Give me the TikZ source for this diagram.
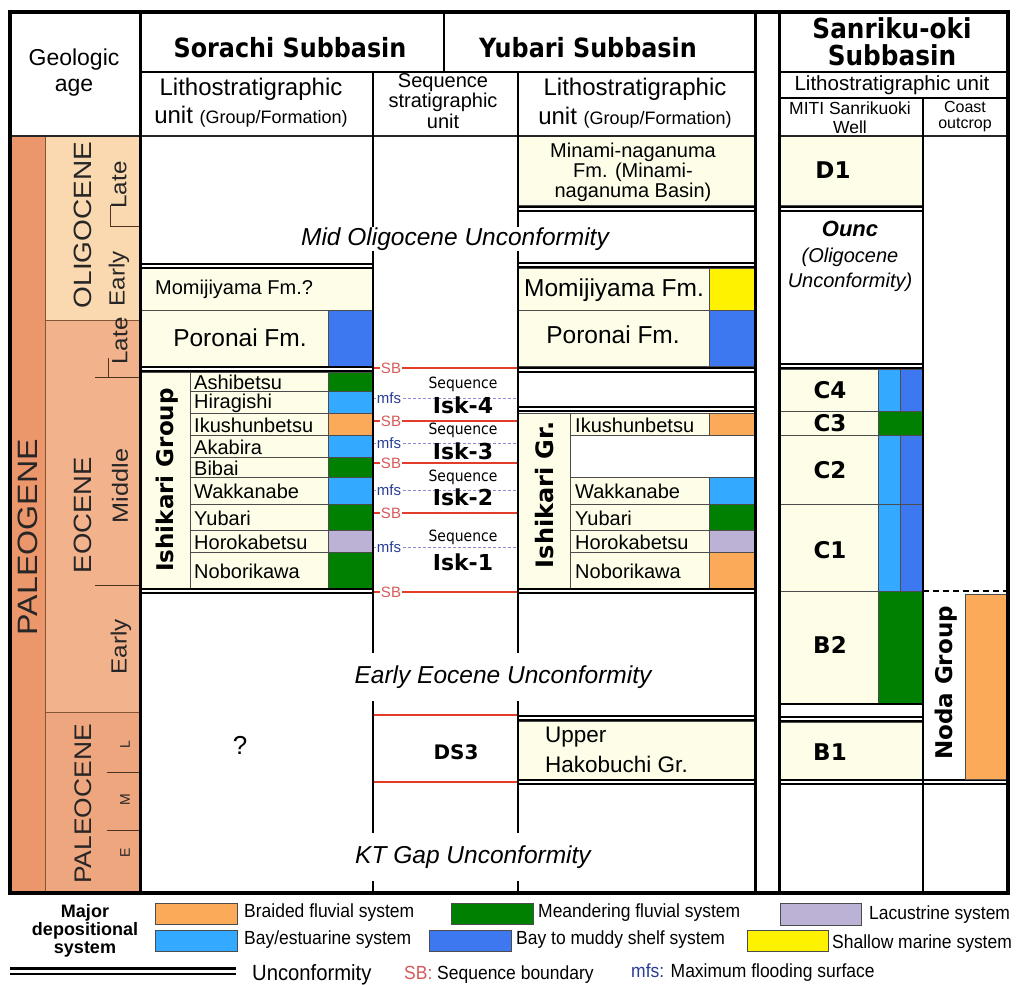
\documentclass[tikz,border=0pt]{standalone}
\usepackage{graphicx}
\usepackage{fontspec}
\setmainfont{Liberation Sans}
\newfontfamily\hfont{DejaVu Sans}[FakeStretch=0.9]
\newfontfamily\vfont{DejaVu Sans}
\newfontfamily\nfont{Liberation Sans}[FakeStretch=0.92]
\newcommand\fsz[1]{\fontsize{#1}{#1}\selectfont}
\definecolor{cream}{RGB}{253,253,232}
\definecolor{gfl}{RGB}{0,128,0}
\definecolor{lblue}{RGB}{51,170,255}
\definecolor{dblue}{RGB}{61,120,240}
\definecolor{orng}{RGB}{251,170,90}
\definecolor{lav}{RGB}{188,178,214}
\definecolor{ylw}{RGB}{255,242,0}
\definecolor{sbred}{RGB}{228,60,40}
\definecolor{sbtxt}{RGB}{214,90,90}
\definecolor{mfstxt}{RGB}{40,60,150}
\definecolor{mfsline}{RGB}{140,140,210}
\definecolor{paleog}{RGB}{236,150,108}
\definecolor{oligo}{RGB}{250,217,176}
\definecolor{eoc}{RGB}{242,178,140}
\definecolor{paleoc}{RGB}{238,166,126}
\definecolor{brn}{RGB}{130,85,55}
\begin{document}
\begin{tikzpicture}[x=1pt,y=-1pt,
  cell/.style={fill=cream, draw=black!70, line width=0.8pt},
  sw/.style={draw=black!70, line width=0.8pt},
  unc/.style={draw=black, double=white, double distance=2.4pt, line width=1.8pt},
  sbline/.style={draw=sbred, line width=2.2pt},
  mfsln/.style={draw=mfsline, line width=0.9pt, dash pattern=on 3pt off 2pt},
  sbl/.style={text=sbtxt, fill=white, inner sep=1pt, font=\fsz{15}},
  mfsl/.style={text=mfstxt, fill=white, inner sep=0.5pt, font=\fsz{15}},
  fm/.style={anchor=west, inner sep=0pt, font=\fsz{20}},
  unitlbl/.style={font=\vfont\bfseries\fsz{23}},
  uncl/.style={font=\itshape\fsz{24.5}, fill=white, inner sep=1pt},
  agelbl/.style={rotate=90, inner sep=0pt, text=black!85},
  hdr/.style={font=\hfont\bfseries\fsz{26.5}},
  sub/.style={font=\fsz{24}},
  tight/.style={inner sep=0pt},
  leg/.style={anchor=west, inner sep=0pt, font=\nfont\fsz{19}},
]
\useasboundingbox (0,0) rectangle (1018,985);

% ---------- geologic age column ----------
\fill[paleog] (10,136) rectangle (45,893);
\fill[oligo] (45,136) rectangle (140,320);
\fill[eoc] (45,320) rectangle (140,712);
\fill[paleoc] (45,712) rectangle (140,893);
\draw[brn, line width=1pt] (45,136)--(45,893) (45,320)--(140,320) (45,712)--(140,712);
\draw[brn!60!black, line width=0.9pt] (110,205)--(110,226)--(140,226)
  (95,377)--(140,377) (108,358)--(108,377) (95,585)--(140,585)
  (107,772)--(140,772) (107,830)--(140,830);

% ---------- Sorachi subbasin ----------
\path[cell] (140,268) rectangle (373,310);
\path[cell] (140,310) rectangle (328,366);
\path[sw, fill=dblue] (328,310) rectangle (373,366);
\path[cell] (140,372) rectangle (190,588);
\foreach \ya/\yb/\nm/\col in {372/391/Ashibetsu/gfl, 391/413/Hiragishi/lblue,
   413/435/Ikushunbetsu/orng, 435/457/Akabira/lblue, 457/477/Bibai/gfl,
   477/504/Wakkanabe/lblue, 504/530/Yubari/gfl, 530/552/Horokabetsu/lav,
   552/588/Noborikawa/gfl}{
  \path[cell] (190,\ya) rectangle (328,\yb);
  \path[sw, fill=\col] (328,\ya) rectangle (373,\yb);
  \node[fm] (s-\nm) at (194,{(\ya+\yb)/2+1}) {\nm};
}
\draw[unc] (140,266)--(373,266) (140,369)--(373,369) (140,591)--(373,591);

% ---------- Yubari subbasin ----------
\path[cell] (518,136) rectangle (755,205);
\draw[unc] (518,209)--(755,209);
\draw[unc] (518,265)--(755,265);
\path[cell] (518,268) rectangle (709,310);
\path[sw, fill=ylw] (709,268) rectangle (755,310);
\path[cell] (518,310) rectangle (709,366);
\path[sw, fill=dblue] (709,310) rectangle (755,366);
\draw[unc] (518,370)--(755,370);
\draw[unc] (518,409)--(755,409);
\path[cell] (518,413) rectangle (570,588);
\path[cell] (570,413) rectangle (709,435);
\path[sw, fill=orng] (709,413) rectangle (755,435);
\node[fm] (y-Ikushunbetsu) at (575,425) {Ikushunbetsu};
\path[sw, fill=white] (570,435) rectangle (755,477);
\foreach \ya/\yb/\nm/\col in {477/504/Wakkanabe/lblue, 504/530/Yubari/gfl,
   530/552/Horokabetsu/lav, 552/588/Noborikawa/orng}{
  \path[cell] (570,\ya) rectangle (709,\yb);
  \path[sw, fill=\col] (709,\ya) rectangle (755,\yb);
  \node[fm] (y-\nm) at (575,{(\ya+\yb)/2+1}) {\nm};
}
\draw[unc] (518,591)--(755,591);
\draw[unc] (518,718)--(755,718);
\path[cell] (518,721) rectangle (755,779);
\draw[unc] (518,782)--(755,782);

% ---------- Sanriku-oki subbasin ----------
\path[cell] (779,136) rectangle (923,205);
\draw[unc] (779,209)--(923,209);
\draw[unc] (779,366)--(923,366);
\foreach \ya/\yb in {369/411, 435/504, 504/591}{
  \path[cell] (779,\ya) rectangle (878,\yb);
  \path[sw, fill=lblue] (878,\ya) rectangle (900,\yb);
  \path[sw, fill=dblue] (900,\ya) rectangle (923,\yb);
}
\path[cell] (779,411) rectangle (878,435);
\path[sw, fill=gfl] (878,411) rectangle (923,435);
\path[cell] (779,591) rectangle (878,704);
\path[sw, fill=gfl] (878,591) rectangle (923,704);
\draw[line width=2pt] (779,704)--(923,704);
\draw[unc] (779,719)--(923,719);
\path[cell] (779,722) rectangle (923,779);
\draw[unc] (779,782)--(1008,782);
\path[sw, fill=orng] (965,594) rectangle (1008,779);
\draw[line width=2pt, dash pattern=on 6pt off 4pt] (923,591)--(1008,591);

% ---------- sequence column ----------
\foreach \y in {368,421,463,513,592}{
  \draw[sbline] (373,\y)--(518,\y);
}
\foreach \y in {398,443,490,547}{
  \draw[mfsln] (373,\y)--(518,\y);
}
\draw[sbline] (373,715)--(518,715) (373,782)--(518,782);

% ---------- table lines ----------
\draw[line width=1.3pt, black!85] (10,136)--(755,136) (779,136)--(1008,136);
\draw[line width=1.3pt] (140,72)--(755,72) (779,72)--(1008,72) (779,98)--(1008,98) (444,12)--(444,72);
\draw[line width=1.8pt] (373,72)--(373,893) (518,72)--(518,893);
\draw[line width=1.5pt] (923,98)--(923,893);
\draw[line width=3pt] (140,12)--(140,893) (755,12)--(755,893) (779,12)--(779,893);
\draw[line width=3.5pt] (10,12) rectangle (1008,893);

% SB / mfs labels
\foreach \y [count=\i] in {368,421,463,513,592}{
  \node[sbl] (sb\i) at (391,\y) {SB};
}
\foreach \y [count=\i] in {398,443,490,547}{
  \node[mfsl] (mfs\i) at (389,\y) {mfs};
}

% ---------- header texts ----------
\node[font=\fsz{23}] (ga1) at (74,60) {Geologic};
\node[font=\fsz{23}] (ga2) at (74,88) {age};
\node[hdr] (sorachi) at (290,48) {Sorachi Subbasin};
\node[hdr] (yubari) at (588,48) {Yubari Subbasin};
\node[hdr, font=\hfont\bfseries\fsz{27.5}] (sanr1) at (892,28) {Sanriku-oki};
\node[hdr, font=\hfont\bfseries\fsz{27.5}] (sanr2) at (892,55) {Subbasin};
\node[sub] (sl1) at (251,89) {Lithostratigraphic};
\node[sub] (sl2) at (251,117) {unit {\fsz{18}(Group/Formation)}};
\node[tight, font=\fsz{20}] (sq1) at (443,83) {Sequence};
\node[tight, font=\fsz{20}] (sq2) at (443,102) {stratigraphic};
\node[tight, font=\fsz{20}] (sq3) at (443,121) {unit};
\node[sub] (yl1) at (635,89) {Lithostratigraphic};
\node[sub] (yl2) at (635,118) {unit {\fsz{18}(Group/Formation)}};
\node[font=\fsz{20.5}] (snl) at (892,85) {Lithostratigraphic unit};
\node[tight, font=\fsz{17.5}] (mw1) at (850,108) {MITI Sanrikuoki};
\node[tight, font=\fsz{17.5}] (mw2) at (850,127) {Well};
\node[tight, font=\fsz{16}] (co1) at (965,107) {Coast};
\node[tight, font=\fsz{16}] (co2) at (965,125) {outcrop};

% ---------- age labels ----------
\node[agelbl, font=\fsz{28}] (paleogene) at (28,537) {\scalebox{1.15}[1]{PALEOGENE}};
\node[agelbl, font=\fsz{25}] (oligocene) at (83,225) {\scalebox{1.12}[1]{OLIGOCENE}};
\node[agelbl, font=\fsz{22}] (olate) at (119,185) {\scalebox{1.1}[1]{Late}};
\node[agelbl, font=\fsz{22}] (oearly) at (119,279) {\scalebox{1.1}[1]{Early}};
\node[agelbl, font=\fsz{22}] (elate) at (120,341) {\scalebox{1.1}[1]{Late}};
\node[agelbl, font=\fsz{25}] (eocene) at (83,515) {\scalebox{1.1}[1]{EOCENE}};
\node[agelbl, font=\fsz{22}] (emid) at (120,486) {\scalebox{1.15}[1]{Middle}};
\node[agelbl, font=\fsz{22}] (eearly) at (121,647) {\scalebox{1.1}[1]{Early}};
\node[agelbl, font=\fsz{24}] (paleocene) at (83,804) {\scalebox{1.1}[1]{PALEOCENE}};
\node[agelbl, font=\fsz{14}] (pl) at (125,745) {L};
\node[agelbl, font=\fsz{14}] (pm) at (125,800) {M};
\node[agelbl, font=\fsz{14}] (pe) at (125,853) {E};

% ---------- body texts ----------
\node[anchor=west, inner sep=0pt, font=\fsz{20}] (momS) at (155,289) {Momijiyama Fm.?};
\node[font=\fsz{24.5}] (porS) at (240,338) {Poronai Fm.};
\node[rotate=90, font=\vfont\bfseries\fsz{23}] (ishG) at (167,480) {Ishikari Group};
\node[font=\fsz{20}] (mn1) at (633,152) {Minami-naganuma};
\node[font=\fsz{20}] (mn2) at (633,172) {Fm. (Minami-};
\node[font=\fsz{20}] (mn3) at (633,192) {naganuma Basin)};
\node[anchor=west, inner sep=0pt, font=\fsz{24.5}] (momY) at (524,290) {Momijiyama Fm.};
\node[font=\fsz{24.5}] (porY) at (613,335) {Poronai Fm.};
\node[rotate=90, font=\vfont\bfseries\fsz{24}] (ishY) at (545,495) {Ishikari Gr.};
\node[anchor=west, inner sep=0pt, font=\fsz{22.5}] (uh1) at (545,737) {Upper};
\node[anchor=west, inner sep=0pt, font=\fsz{22.5}] (uh2) at (545,764) {Hakobuchi Gr.};
\node[font=\fsz{26}] (qm) at (240,745) {?};

\node[uncl] (midolig) at (455,239) {Mid Oligocene Unconformity};
\node[uncl, minimum height=48pt] (eeoc) at (503,677) {Early Eocene Unconformity};
\node[uncl, minimum height=48pt] (ktgap) at (473,857) {KT Gap Unconformity};

\foreach \ys/\yi/\n in {384/405/4, 430/451/3, 477/497/2, 537/562/1}{
  \node[font=\hfont\fsz{15.5}] (seq\n) at (463,\ys) {Sequence};
  \node[font=\vfont\bfseries\fsz{22}] (isk\n) at (463,\yi) {Isk-\n};
}
\node[font=\vfont\bfseries\fsz{20}] (ds3) at (456,752) {DS3};

\node[unitlbl] (d1) at (833,170) {D1};
\node[font=\bfseries\itshape\fsz{22}] (ounc) at (850,229) {Ounc};
\node[font=\itshape\fsz{20}] (ou1) at (850,257) {(Oligocene};
\node[font=\itshape\fsz{20}] (ou2) at (850,282) {Unconformity)};
\node[unitlbl] (c4) at (830,390) {C4};
\node[unitlbl] (c3) at (830,423) {C3};
\node[unitlbl] (c2) at (830,470) {C2};
\node[unitlbl] (c1) at (830,550) {C1};
\node[unitlbl] (b2) at (830,645) {B2};
\node[unitlbl] (b1) at (830,752) {B1};
\node[rotate=90, font=\vfont\bfseries\fsz{23}] (noda) at (946,683) {Noda Group};

% ---------- legend ----------
\node[font=\bfseries\fsz{18}] (mj1) at (85,913) {Major};
\node[font=\bfseries\fsz{18}] (mj2) at (85,931) {depositional};
\node[font=\bfseries\fsz{18}] (mj3) at (85,949) {system};
\path[sw, fill=orng] (155,903) rectangle (237,924);
\node[leg] (l1) at (244,913) {Braided fluvial system};
\path[sw, fill=gfl] (451,903) rectangle (533,924);
\node[leg] (l2) at (538,913) {Meandering fluvial system};
\path[sw, fill=lav] (780,903) rectangle (861,925);
\node[leg] (l3) at (869,915) {Lacustrine system};
\path[sw, fill=lblue] (155,930) rectangle (237,951);
\node[leg] (l4) at (244,940) {Bay/estuarine system};
\path[sw, fill=dblue] (429,930) rectangle (511,951);
\node[leg] (l5) at (516,940) {Bay to muddy shelf system};
\path[sw, fill=ylw] (747,930) rectangle (828,951);
\node[leg] (l6) at (832,944) {Shallow marine system};
\draw[draw=black, double=white, double distance=3pt, line width=2.2pt] (10,971)--(236,971);
\node[leg, font=\nfont\fsz{22}] (l7) at (252,975) {Unconformity};
\node[leg] (l8) at (404,975) {{\color{sbtxt}SB:} Sequence boundary};
\node[leg] (l9) at (631,973) {{\color{mfstxt}mfs:} Maximum flooding surface};
\end{tikzpicture}
\end{document}
